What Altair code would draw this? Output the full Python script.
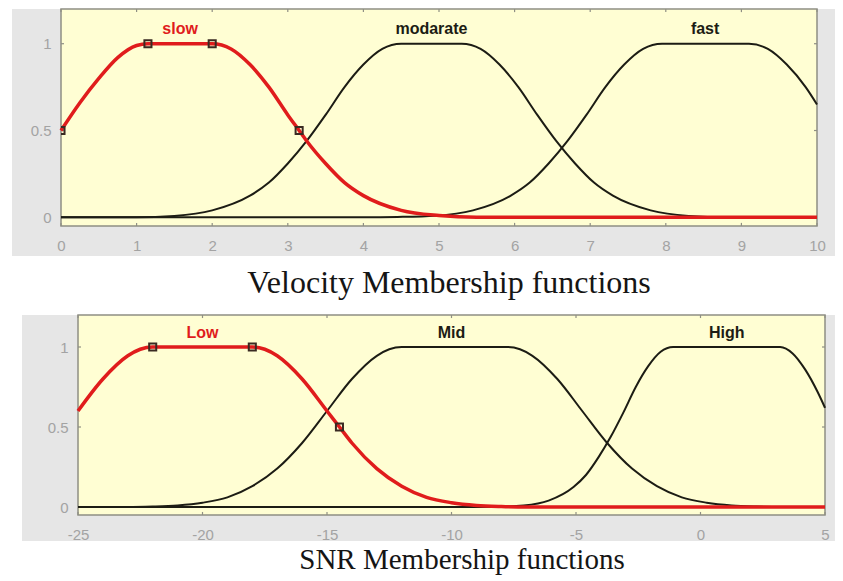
import altair as alt
import pandas as pd

# ---------------- Velocity panel data ----------------
slow_x = [0, 0.25, 0.5, 0.75, 1.0, 1.15, 2.0, 2.25, 2.5, 2.75, 3.0, 3.15, 3.25, 3.5, 3.75, 4.0, 4.5, 5.0, 5.5, 6.0, 10]
slow_y = [0.50, 0.66, 0.80, 0.92, 0.99, 1.0, 1.0, 0.97, 0.88, 0.75, 0.59, 0.50, 0.44, 0.31, 0.20, 0.125, 0.04, 0.01, 0.0, 0.0, 0.0]

mod_x = [0, 1.0, 1.5, 2.0, 2.5, 2.75, 3.0, 3.25, 3.5, 3.75, 4.0, 4.25, 4.5, 5.3, 5.55, 5.8, 6.05, 6.3, 6.55, 6.8, 7.05, 7.3, 7.8, 8.3, 8.8, 10]
mod_y = [0, 0.0, 0.008, 0.04, 0.125, 0.20, 0.31, 0.44, 0.59, 0.75, 0.88, 0.97, 1.0, 1.0, 0.97, 0.88, 0.75, 0.59, 0.44, 0.31, 0.20, 0.125, 0.04, 0.008, 0.0, 0]

fast_x = [0, 4.0, 4.45, 4.95, 5.45, 5.95, 6.2, 6.45, 6.7, 6.95, 7.2, 7.45, 7.7, 7.95, 9.1, 9.35, 9.6, 9.85, 10]
fast_y = [0, 0.0, 0.002, 0.009, 0.04, 0.125, 0.20, 0.31, 0.44, 0.59, 0.75, 0.88, 0.97, 1.0, 1.0, 0.97, 0.88, 0.75, 0.65]

vel_marker_x = [0, 1.15, 2.0, 3.15]
vel_marker_y = [0.5, 1.0, 1.0, 0.5]
vel_names = ["slow", "modarate", "fast"]
vel_name_x = [1.575, 4.9, 8.52]
vel_ticks = [0, 1, 2, 3, 4, 5, 6, 7, 8, 9, 10]

# ---------------- SNR panel data ----------------
low_x = [-25, -24, -23, -22.5, -22, -18, -17.5, -17, -16, -15, -14.5, -14, -13, -12, -11, -10, -9, -8, -7, 5]
low_y = [0.60, 0.80, 0.945, 0.986, 1.0, 1.0, 0.986, 0.945, 0.80, 0.60, 0.50, 0.40, 0.24, 0.13, 0.06, 0.027, 0.01, 0.003, 0.0, 0.0]

mid_x = [-25, -23, -22, -21, -20, -19, -18, -17, -16, -15, -14, -13, -12.5, -12, -7.75, -7.25, -6.75, -5.75, -4.75, -3.75, -2.75, -1.75, -0.75, 0.25, 1.25, 2.25, 3.25, 5]
mid_y = [0, 0.0, 0.003, 0.01, 0.027, 0.06, 0.13, 0.24, 0.40, 0.60, 0.80, 0.945, 0.986, 1.0, 1.0, 0.986, 0.945, 0.80, 0.60, 0.40, 0.24, 0.13, 0.06, 0.027, 0.01, 0.003, 0.0, 0]

high_x = [-25, -9.0, -8.1, -7.1, -6.1, -5.1, -4.6, -4.1, -3.6, -3.1, -2.6, -2.1, -1.6, -1.1, 3.2, 3.7, 4.2, 4.7, 5]
high_y = [0, 0.0, 0.001, 0.009, 0.04, 0.125, 0.20, 0.31, 0.44, 0.59, 0.75, 0.88, 0.97, 1.0, 1.0, 0.96, 0.86, 0.72, 0.62]

snr_marker_x = [-22, -18, -14.5]
snr_marker_y = [1.0, 1.0, 0.5]
snr_names = ["Low", "Mid", "High"]
snr_name_x = [-20, -10, 1.05]
snr_ticks = [-25, -20, -15, -10, -5, 0, 5]

y_ticks = [0, 0.5, 1]
label_y = 1.087

GRAY = "#e6e6e6"
YELLOW = "#fffed3"
BORDER = "#8f8f84"
RED = "#e01c1c"
BLACK = "#1c1c14"
LABEL = "#a3a3a3"
SANS = "Liberation Sans"
SERIF = "Liberation Serif"


def curves_df(curves):
    rows = []
    for name, xs, ys in curves:
        for i, (a, b) in enumerate(zip(xs, ys)):
            rows.append({"mf": name, "i": i, "x": a, "y": b})
    return pd.DataFrame(rows)


def panel(x_view, x_plot, x_ticks, x_gray, y_gray_bottom, black_curves, red_curve,
          marker_x, marker_y, names, name_x, width, height, y_axis_offset,
          caption, cap_dx, cap_offset, cap_size, xtick_len, ytick_len):
    xs = alt.Scale(domain=x_view, nice=False, zero=False)
    ys = alt.Scale(domain=[-0.05, 1.2], nice=False, zero=False)
    X = alt.X("x:Q", scale=xs, axis=alt.Axis(
        values=x_ticks, title=None, grid=False, domain=False, ticks=False,
        labelExpr="'' + datum.value", labelFlush=False, labelOverlap=False,
        labelColor=LABEL, labelFont=SANS, labelFontSize=15, labelPadding=12, zindex=1))
    Y = alt.Y("y:Q", scale=ys, axis=alt.Axis(
        values=y_ticks, title=None, grid=False, domain=False, ticks=False,
        format="~g", labelFlush=False, labelOverlap=False,
        labelColor=LABEL, labelFont=SANS, labelFontSize=15, labelPadding=10,
        offset=y_axis_offset, zindex=1))

    gray = alt.Chart(pd.DataFrame({"x": [x_gray[0]], "x2": [x_gray[1]],
                                   "y": [1.2], "y2": [y_gray_bottom]})).mark_rect(
        fill=GRAY, clip=False).encode(x=X, x2="x2:Q", y=Y, y2="y2:Q")
    yellow = alt.Chart(pd.DataFrame({"x": [x_plot[0]], "x2": [x_plot[1]],
                                     "y": [1.2], "y2": [-0.05]})).mark_rect(
        fill=YELLOW, stroke=BORDER, strokeWidth=1.5).encode(x=X, x2="x2:Q", y=Y, y2="y2:Q")

    # small inward tick marks on the plot frame
    xt = pd.DataFrame({"x": x_ticks * 2,
                       "y": [-0.05] * len(x_ticks) + [1.2] * len(x_ticks),
                       "y2": [-0.05 + ytick_len] * len(x_ticks) + [1.2 - ytick_len] * len(x_ticks)})
    xtick_layer = alt.Chart(xt).mark_rule(color=BORDER, strokeWidth=1.2).encode(
        x=X, y=Y, y2="y2:Q")
    yt = pd.DataFrame({"x": [x_plot[0]] * len(y_ticks) + [x_plot[1]] * len(y_ticks),
                       "x2": [x_plot[0] + xtick_len] * len(y_ticks) + [x_plot[1] - xtick_len] * len(y_ticks),
                       "y": y_ticks * 2})
    ytick_layer = alt.Chart(yt).mark_rule(color=BORDER, strokeWidth=1.2).encode(
        x=X, x2="x2:Q", y=Y)

    black = alt.Chart(curves_df(black_curves)).mark_line(
        interpolate="monotone", color=BLACK, strokeWidth=2).encode(
        x=X, y=Y, detail="mf:N", order="i:Q")
    red = alt.Chart(curves_df([red_curve])).mark_line(
        interpolate="monotone", color=RED, strokeWidth=3.5).encode(
        x=X, y=Y, order="i:Q")
    marks = alt.Chart(pd.DataFrame({"x": marker_x, "y": marker_y})).mark_point(
        shape="square", filled=False, size=50, stroke="#3a2a22", strokeWidth=2,
        opacity=1, clip=True).encode(x=X, y=Y)
    colors = [RED, BLACK, BLACK]
    text = alt.Chart(pd.DataFrame({"x": name_x, "y": [label_y] * len(names),
                                   "name": names, "c": colors})).mark_text(
        font=SANS, fontWeight="bold", fontSize=16).encode(
        x=X, y=Y, text="name:N", color=alt.Color("c:N", scale=None))
    return alt.layer(gray, yellow, xtick_layer, ytick_layer, black, red, marks, text).properties(
        width=width, height=height,
        title=alt.Title(caption, orient="bottom", anchor="middle", frame="group",
                        font=SERIF, fontSize=cap_size, fontWeight="normal", color="#151515",
                        offset=cap_offset, dx=cap_dx))


top = panel(
    x_view=[0, 10], x_plot=[0, 10], x_ticks=vel_ticks,
    x_gray=[-0.648, 10.238], y_gray_bottom=-0.2228,
    black_curves=[("modarate", mod_x, mod_y), ("fast", fast_x, fast_y)],
    red_curve=("slow", slow_x, slow_y),
    marker_x=vel_marker_x, marker_y=vel_marker_y,
    names=vel_names, name_x=vel_name_x,
    width=756, height=217, y_axis_offset=0,
    caption="Velocity Membership functions", cap_dx=10, cap_offset=11.7, cap_size=32,
    xtick_len=0.04, ytick_len=0.018)

bottom = panel(
    x_view=[-25.683, 5], x_plot=[-25, 5], x_ticks=snr_ticks,
    x_gray=[-27.25, 5.40], y_gray_bottom=-0.2125,
    black_curves=[("Mid", mid_x, mid_y), ("High", high_x, high_y)],
    red_curve=("Low", low_x, low_y),
    marker_x=snr_marker_x, marker_y=snr_marker_y,
    names=snr_names, name_x=snr_name_x,
    width=764, height=200, y_axis_offset=-17,
    caption="SNR Membership functions", cap_dx=19, cap_offset=3.5, cap_size=29,
    xtick_len=0.12, ytick_len=0.019)

chart = alt.vconcat(top, bottom, spacing=15).configure_view(stroke=None).properties(
    padding={"left": 4, "top": 0, "right": 0, "bottom": 0}, background="white")

chart.save("out.html", embed_options={"renderer": "svg", "actions": False})
